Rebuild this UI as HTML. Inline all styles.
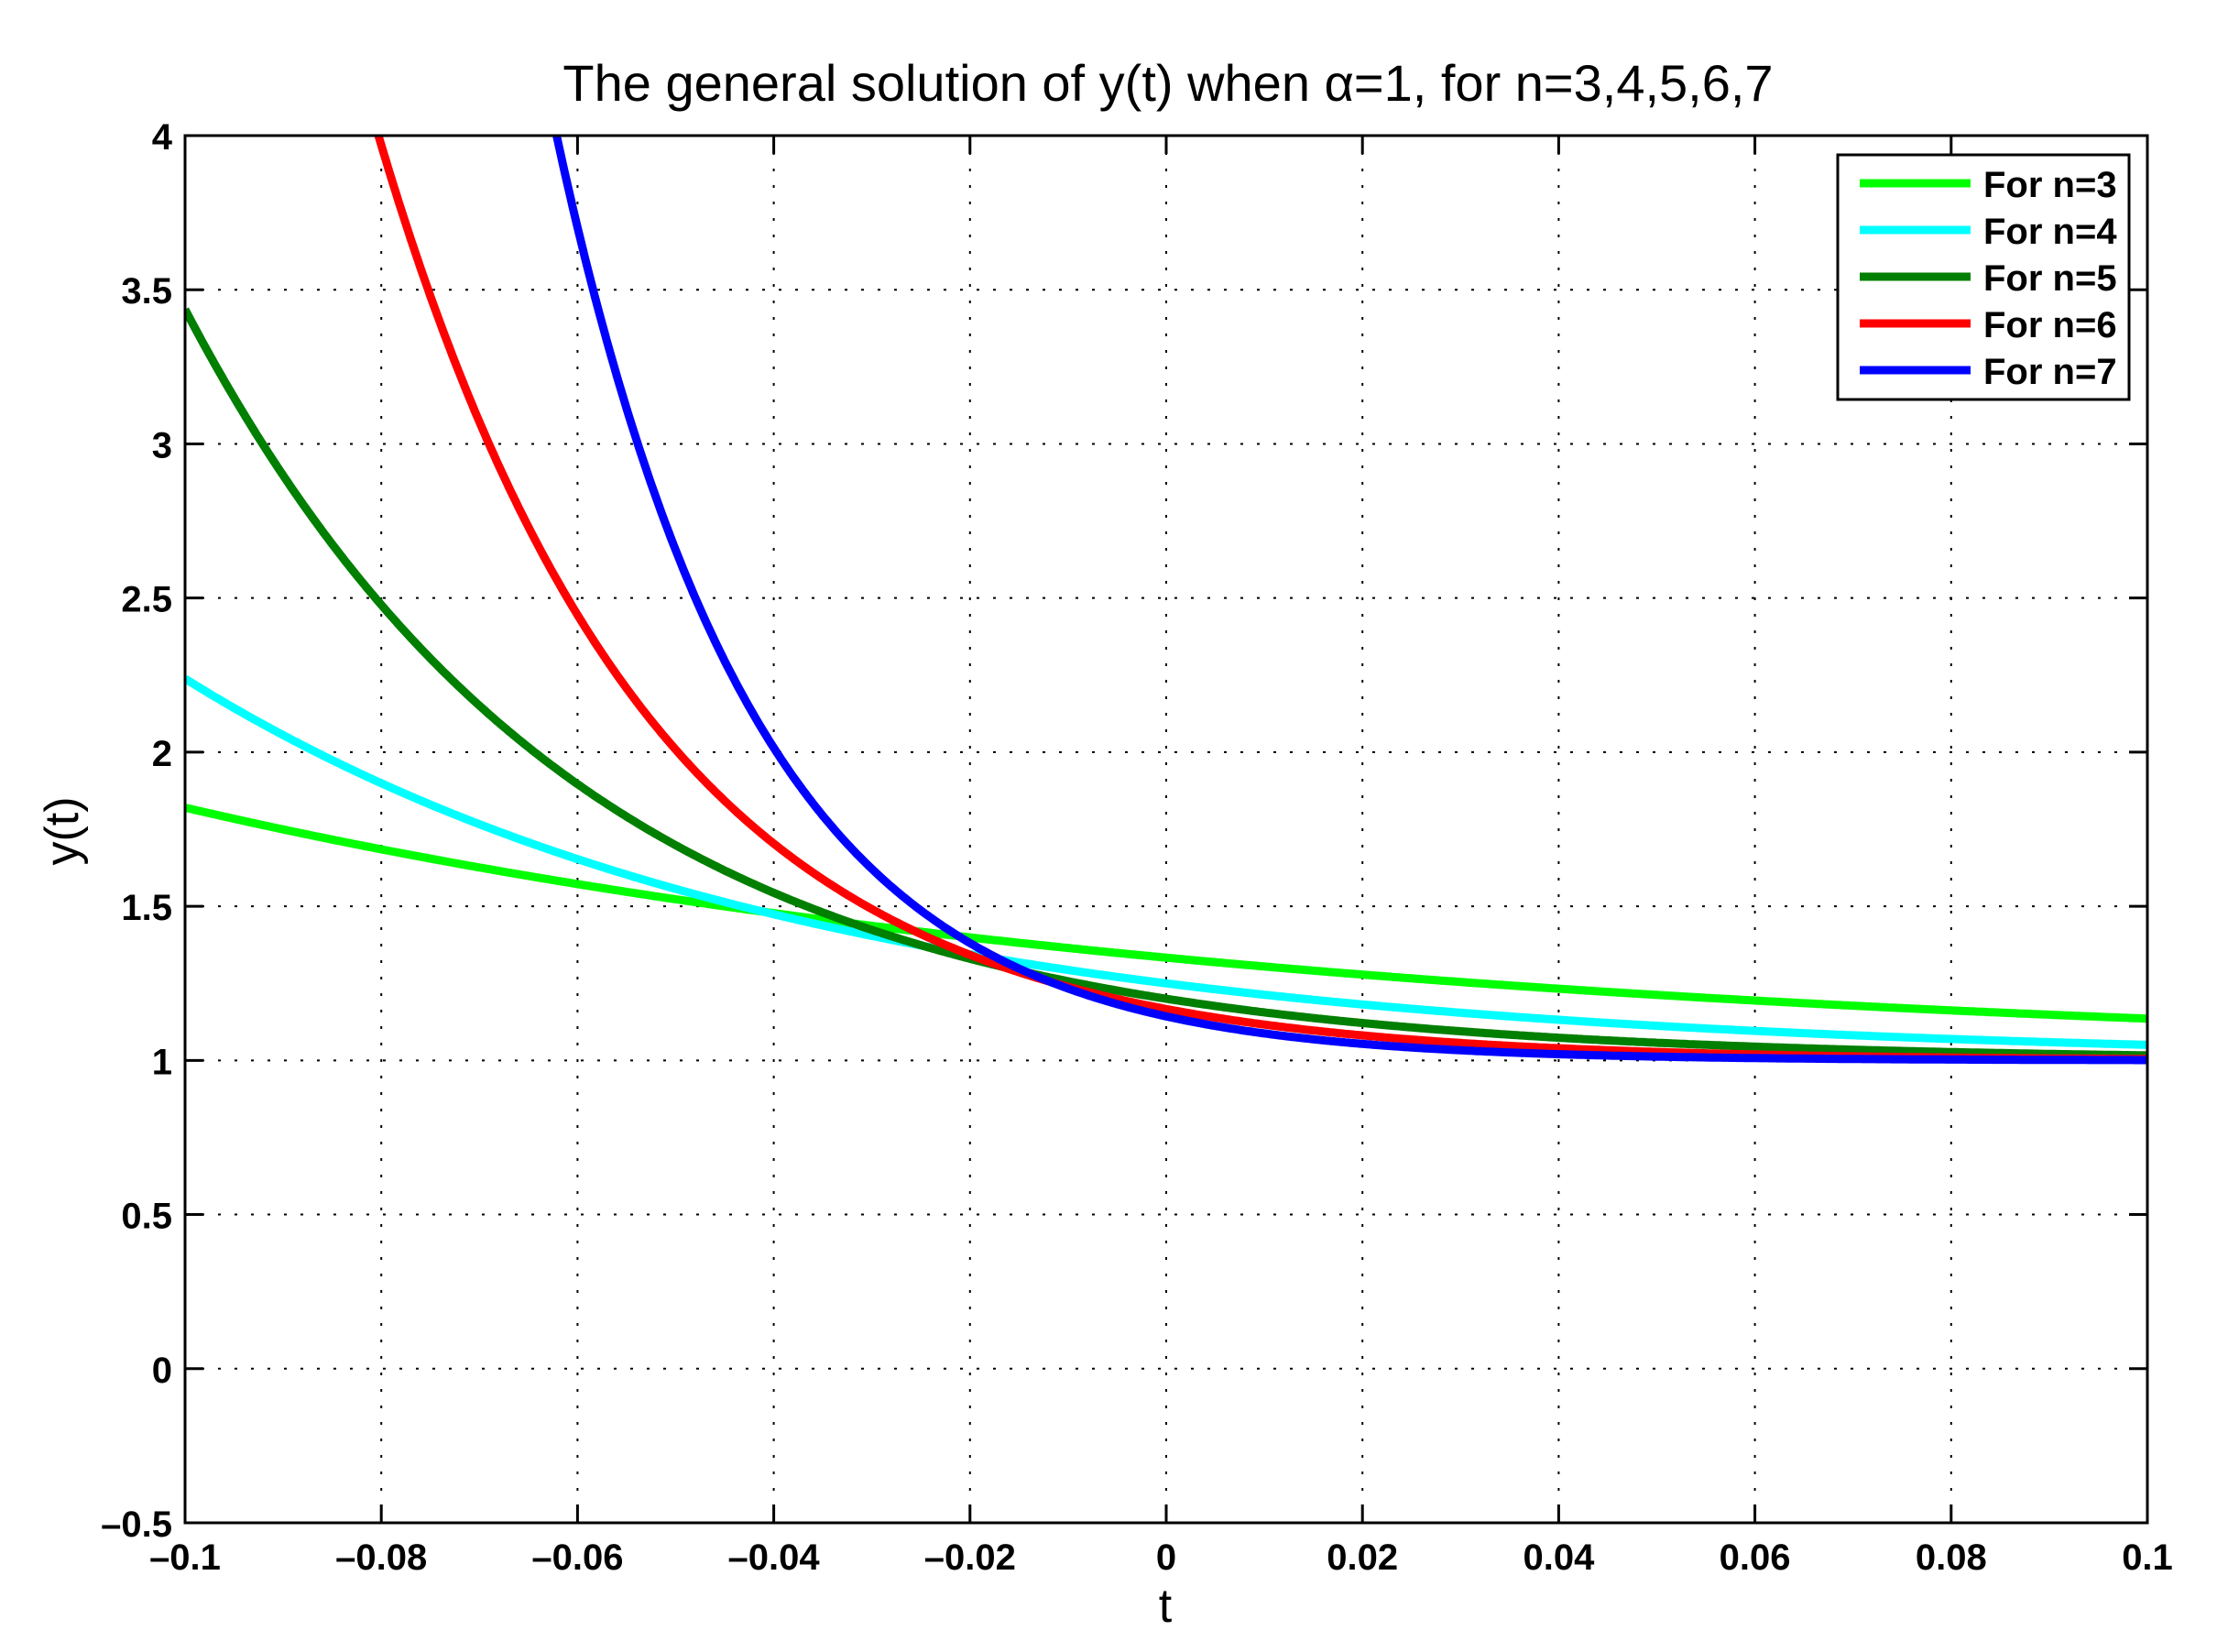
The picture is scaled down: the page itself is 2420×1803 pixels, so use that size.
<!DOCTYPE html>
<html><head><meta charset="utf-8">
<style>
html,body{margin:0;padding:0;background:#fff;}
svg{display:block;}
text{font-family:"Liberation Sans",sans-serif;fill:#000;}
.tk{font-size:40px;font-weight:bold;}
</style></head>
<body>
<svg id="s" width="2420" height="1803" viewBox="0 0 2420 1803" xmlns="http://www.w3.org/2000/svg">
<rect width="2420" height="1803" fill="#fff"/>
<defs><clipPath id="c"><rect x="202" y="148" width="2142" height="1514"/></clipPath></defs>
<g id="grid" stroke="#000" stroke-width="2" stroke-dasharray="3,15"></g>
<g id="ticks" stroke="#000" stroke-width="3"></g>
<g id="labels"></g>
<g id="curves" clip-path="url(#c)" fill="none" stroke-width="9" stroke-linejoin="round"></g>
<rect x="202" y="148" width="2142" height="1514" fill="none" stroke="#000" stroke-width="3"/>
<text x="1275" y="110" font-size="56" text-anchor="middle">The general solution of y(t) when α=1, for n=3,4,5,6,7</text>
<text x="1272" y="1770" font-size="52" text-anchor="middle">t</text>
<text transform="translate(85,907) rotate(-90)" font-size="52" text-anchor="middle">y(t)</text>
<rect x="2006" y="169" width="318" height="267" fill="#fff" stroke="#000" stroke-width="3"/>
<g stroke-width="9">
<line x1="2030" y1="200" x2="2151" y2="200" stroke="#00ff00"/>
<line x1="2030" y1="251" x2="2151" y2="251" stroke="#00ffff"/>
<line x1="2030" y1="302" x2="2151" y2="302" stroke="#007f00"/>
<line x1="2030" y1="353" x2="2151" y2="353" stroke="#ff0000"/>
<line x1="2030" y1="404" x2="2151" y2="404" stroke="#0000ff"/>
</g>
<g class="tk">
<text x="2165" y="215">For n=3</text>
<text x="2165" y="266">For n=4</text>
<text x="2165" y="317">For n=5</text>
<text x="2165" y="368">For n=6</text>
<text x="2165" y="419">For n=7</text>
</g>
</svg>
<script>
(function(){
var NS="http://www.w3.org/2000/svg";
var L=202,R=2344,T=148,B=1662;
function X(t){return L+(t+0.1)/0.2*(R-L);}
function Y(y){return B-(y+0.5)/4.5*(B-T);}
function el(p,tag,a,txt){var e=document.createElementNS(NS,tag);for(var k in a)e.setAttribute(k,a[k]);if(txt!=null)e.textContent=txt;p.appendChild(e);return e;}
var g=document.getElementById('grid'),tk=document.getElementById('ticks'),lb=document.getElementById('labels');
var xl=['\u20130.1','\u20130.08','\u20130.06','\u20130.04','\u20130.02','0','0.02','0.04','0.06','0.08','0.1'];
for(var i=0;i<=10;i++){var x=L+i*(R-L)/10;
 if(i>0&&i<10)el(g,'line',{x1:x,y1:T,x2:x,y2:B});
 el(tk,'line',{x1:x,y1:B,x2:x,y2:B-20});el(tk,'line',{x1:x,y1:T,x2:x,y2:T+20});
 el(lb,'text',{x:x,y:1713,'text-anchor':'middle','class':'tk'},xl[i]);}
var yl=['\u20130.5','0','0.5','1','1.5','2','2.5','3','3.5','4'];
for(var j=0;j<=9;j++){var y=B-j*(B-T)/9;
 if(j>0&&j<9)el(g,'line',{x1:L,y1:y,x2:R,y2:y});
 el(tk,'line',{x1:L,y1:y,x2:L+20,y2:y});el(tk,'line',{x1:R,y1:y,x2:R-20,y2:y});
 el(lb,'text',{x:188,y:y+15,'text-anchor':'end','class':'tk'},yl[j]);}
var cs={3:'#00ff00',4:'#00ffff',5:'#007f00',6:'#ff0000',7:'#0000ff'};
var cv=document.getElementById('curves');
[3,4,5,6,7].forEach(function(n){var d='';
 for(var k=0;k<=800;k++){var t=-0.1+0.2*k/800;var y=1+Math.exp(-n*n*t)/n;if(y>6)y=6;
  d+=(k?'L':'M')+X(t).toFixed(1)+' '+Y(y).toFixed(1);}
 el(cv,'path',{d:d,stroke:cs[n]});});
})();
</script>
</body></html>
